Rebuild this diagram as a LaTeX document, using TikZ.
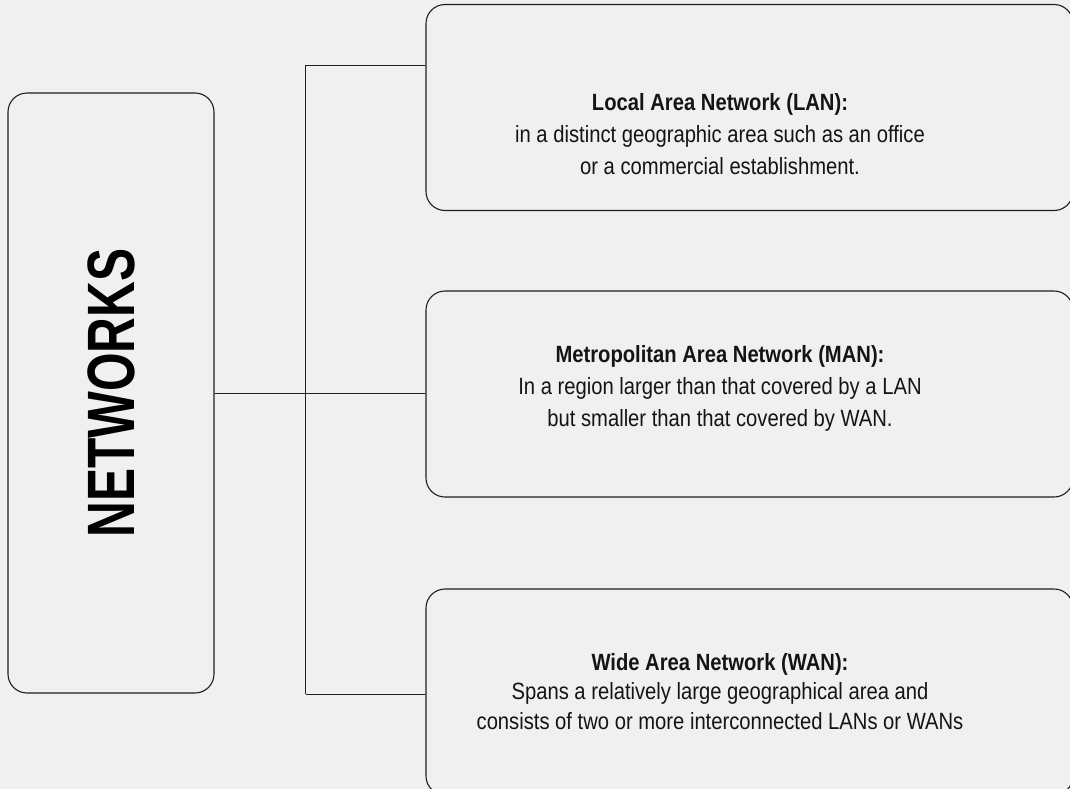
\documentclass[tikz,border=0pt]{standalone}
\usepackage{fontspec}
\setmainfont{Liberation Sans}[FakeStretch=0.86]
\newfontfamily\headfont{Liberation Sans}[FakeStretch=0.74]
\usepackage{tikz}
\usetikzlibrary{calc,positioning}

\begin{document}
\begin{tikzpicture}[
    x=1pt, y=-1pt,
    frame line/.style={draw=black!88, line width=1.1pt, rounded corners=19pt},
    net box/.style={frame line, minimum width=206pt, minimum height=600pt, inner sep=0pt},
    kind box/.style={frame line, minimum width=647pt, minimum height=206pt, inner sep=0pt},
    bus line/.style={draw=black!88, line width=0.9pt},
    kind text/.style={align=center, font=\fontsize{23.5}{32}\selectfont, text=black!92},
    every node/.style={color=black}
    ]
    % background and page size
    \fill[black!6] (0,0) rectangle (1070,789);
    \useasboundingbox (0,0) rectangle (1070,789);
    % Boxes
    \node[net box] (net) at (111,393) {};
    \node[kind box] (lan) at (749.5,107.5) {};
    \node[kind box] (man) at (749.5,394) {};
    \node[kind box] (wan) at (749.5,692) {};
    \node[rotate=90, font=\headfont\bfseries\fontsize{67}{67}\selectfont] (nettitle) at (net.center) {NETWORKS};
    % Texts of the three kinds
    \node[kind text] (lantext) at (720,134)
        {\textbf{Local Area Network (LAN):}\\in a distinct geographic area such as an office\\or a commercial establishment.};
    \node[kind text] (mantext) at (720,388)
        {\textbf{Metropolitan Area Network (MAN):}\\In a region larger than that covered by a LAN\\but smaller than that covered by WAN.};
    \node[kind text, font=\fontsize{23.5}{29.5}\selectfont] (wantext) at (720,691.5)
        {\textbf{Wide Area Network (WAN):}\\Spans a relatively large geographical area and\\consists of two or more interconnected LANs or WANs};
    % Lines
    \coordinate (bustop) at (305.5,65);
    \coordinate (busbot) at (305.5,694);
    \draw[bus line] (bustop) -- (busbot);
    \draw[bus line] (bustop) -- (bustop -| lan.west);
    \draw[bus line] (busbot) -- (busbot -| wan.west);
    \draw[bus line] (net.east) -- (net.east -| man.west);
\end{tikzpicture}
\end{document}
